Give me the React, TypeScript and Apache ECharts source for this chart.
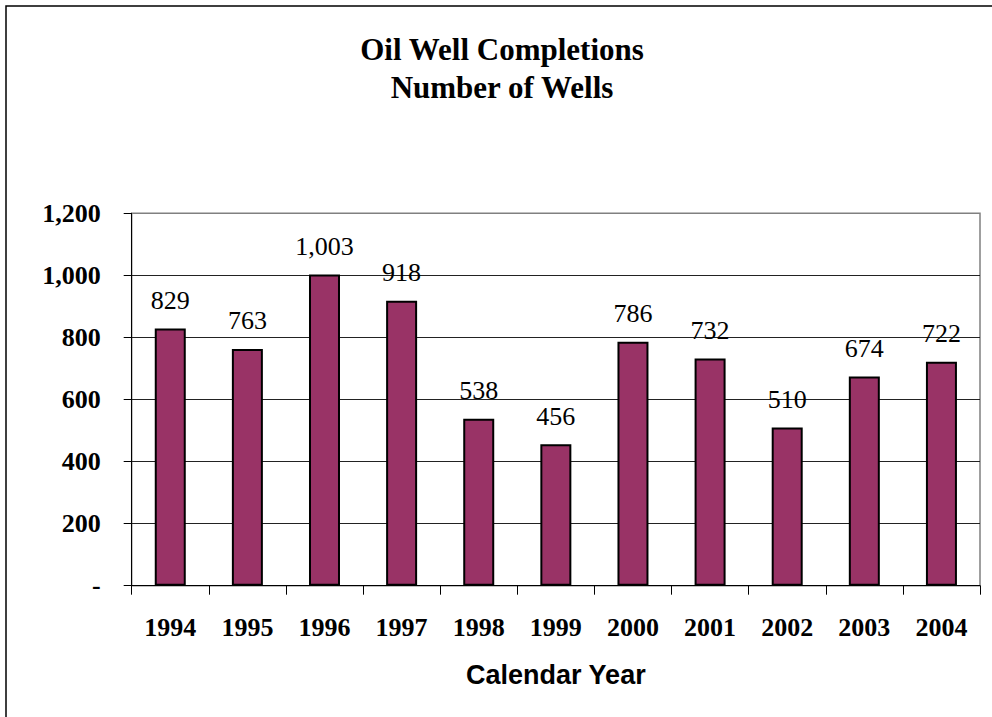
import React, { useEffect, useRef } from "react";
import * as echarts from "echarts";

const years = ["1994", "1995", "1996", "1997", "1998", "1999", "2000", "2001", "2002", "2003", "2004"];
const wells = [829, 763, 1003, 918, 538, 456, 786, 732, 510, 674, 722];
const titleLines = ["Oil Well Completions", "Number of Wells"];
const xAxisName = "Calendar Year";

const serif = "'Liberation Serif', 'Times New Roman', serif";
const sans = "'Liberation Sans', Arial, sans-serif";

export default function App() {
  const ref = useRef<HTMLDivElement>(null);
  useEffect(() => {
    if (!ref.current) return;
    const chart = echarts.init(ref.current, null, { renderer: "svg" });
    chart.setOption({
      animation: false,
      backgroundColor: "#ffffff",
      title: {
        text: titleLines.join("\n"),
        left: 497,
        textAlign: "center",
        top: 25,
        textStyle: {
          fontFamily: serif,
          fontSize: 31,
          fontWeight: "bold",
          color: "#000",
          lineHeight: 38,
        },
      },
      graphic: [
        {
          type: "rect",
          shape: { x: 6, y: 6, width: 1000, height: 800 },
          style: { fill: "none", stroke: "#000", lineWidth: 1.5 },
          silent: true,
        },
      ],
      grid: {
        left: 131.7,
        top: 213.3,
        right: 12,
        bottom: 131.3,
        show: true,
        borderColor: "#808080",
        borderWidth: 1.5,
        backgroundColor: "transparent",
      },
      xAxis: {
        type: "category",
        data: years,
        name: xAxisName,
        nameLocation: "middle",
        nameGap: 76,
        nameTextStyle: {
          fontFamily: sans,
          fontSize: 27,
          fontWeight: "bold",
          color: "#000",
        },
        axisLine: { show: true, lineStyle: { color: "#000", width: 1 } },
        axisTick: { show: true, length: 9, alignWithLabel: false, lineStyle: { color: "#000" } },
        axisLabel: {
          margin: 29,
          fontFamily: serif,
          fontSize: 26,
          fontWeight: "bold",
          color: "#000",
        },
        splitLine: { show: false },
      },
      yAxis: {
        type: "value",
        min: 0,
        max: 1200,
        interval: 200,
        axisLine: { show: true, lineStyle: { color: "#000", width: 1 } },
        axisTick: { show: true, length: 8, lineStyle: { color: "#000" } },
        axisLabel: {
          margin: 31,
          fontFamily: serif,
          fontSize: 26,
          fontWeight: "bold",
          color: "#000",
          formatter: (v: number) => (v === 0 ? "-" : v.toLocaleString("en-US")),
        },
        splitLine: {
          show: true,
          lineStyle: {
            color: ["#000", "#222", "#222", "#222", "#222", "#222", "#808080"],
            width: 1,
          },
        },
      },
      series: [
        {
          type: "bar",
          data: wells,
          barWidth: 31,
          itemStyle: { color: "#993366", borderColor: "#000", borderWidth: 2 },
          label: {
            show: true,
            position: "top",
            distance: 15,
            fontFamily: serif,
            fontSize: 26,
            color: "#000",
            formatter: (p: any) => Number(p.value).toLocaleString("en-US"),
          },
        },
      ],
    });
    return () => chart.dispose();
  }, []);
  return (
    <div
      ref={ref}
      style={{ position: "fixed", left: 0, top: 0, width: 992, height: 717, background: "#fff" }}
    />
  );
}
